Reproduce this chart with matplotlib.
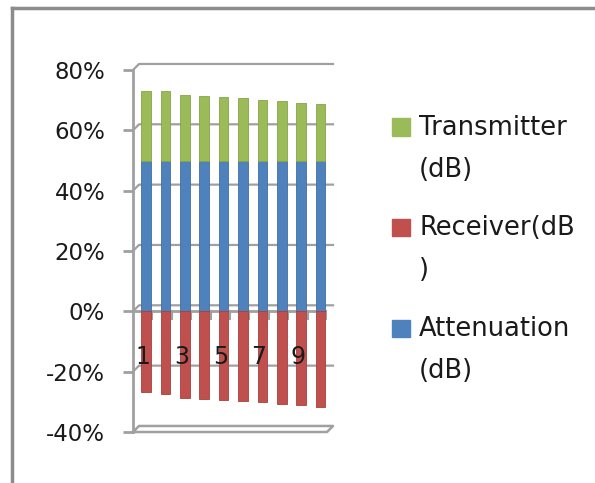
import matplotlib.pyplot as plt
import matplotlib.transforms as mtransforms
from matplotlib.patches import Rectangle
import numpy as np

# datos de las barras (en %)
categorias = [1, 2, 3, 4, 5, 6, 7, 8, 9, 10]
atenuacion = [50, 50, 50, 50, 50, 50, 50, 50, 50, 50]
transmisor = [23.2, 23.0, 21.8, 21.5, 21.1, 20.7, 20.1, 19.6, 19.2, 18.8]
receptor = [-26.8, -27.4, -28.6, -29.0, -29.3, -29.7, -30.1, -30.7, -31.1, -31.7]
ticks_y = [-40, -20, 0, 20, 40, 60, 80]
etiquetas_x = ['1', '', '3', '', '5', '', '7', '', '9', '']
nombres = ['Transmitter\n(dB)', 'Receiver(dB\n)', 'Attenuation\n(dB)']

verde = '#9BBB59'
rojo = '#C0504D'
azul = '#4F81BD'
gris = '#A0A0A0'
texto = '#1A1A1A'

fig = plt.figure(figsize=(5.95, 4.83), dpi=100)
ax = fig.add_axes([133 / 595, 51 / 483, 194 / 595, 362 / 483])
ax.set_xlim(-0.5, len(categorias) - 0.5)
ax.set_ylim(-40, 80)

# las columnas quedan a media profundidad (desplazadas un poco a la derecha)
prof = ax.transData + mtransforms.ScaledTranslation(3.3 / 100, 0, fig.dpi_scale_trans)
x = np.arange(len(categorias))
ancho = 0.5
estilo = dict(width=ancho, zorder=3, transform=prof, linewidth=0.6)
ax.bar(x, atenuacion, color=azul, edgecolor='#3F6EA6', **estilo)
ax.bar(x, transmisor, bottom=atenuacion, color=verde, edgecolor='#86A548', **estilo)
ax.bar(x, receptor, color=rojo, edgecolor='#A8403D', **estilo)

# lineas de la pared del fondo (efecto 3D)
dx, dy = 0.031, 2.0
mixto = ax.get_yaxis_transform()
for t in ticks_y[1:]:
    ax.plot([0, dx, 1 + dx], [t, t + dy, t + dy], color=gris, lw=1.6,
            transform=mixto, clip_on=False, zorder=1)

# eje de categorias en el cero con sus marcas
ax.axhline(0, color=gris, lw=2, zorder=2)
for b in x + 0.5:
    ax.plot([b, b], [0, -2.6], color=gris, lw=1.5, zorder=2)

# suelo
ax.plot([0, 1, 1 + dx, dx, 0], [-40, -40, -40 + dy, -40 + dy, -40], color=gris,
        lw=1.8, transform=mixto, clip_on=False, zorder=2)

for s in ['top', 'right', 'bottom']:
    ax.spines[s].set_visible(False)
ax.spines['left'].set_color(gris)
ax.spines['left'].set_linewidth(2)

ax.set_yticks(ticks_y)
ax.set_yticklabels([f'{t}%' for t in ticks_y], fontsize=16.5, color=texto)
ax.tick_params(axis='y', length=7, width=2, color=gris, pad=13)
ax.set_xticks([])

for xi, et in zip(x, etiquetas_x):
    ax.text(xi, -15, et, ha='center', va='center', fontsize=17, color=texto,
            zorder=4)

# leyenda
for i, (nom, col) in enumerate(zip(nombres, [verde, rojo, azul])):
    yc = 1 - (127 + 100.5 * i) / 483
    fig.add_artist(Rectangle((392 / 595, yc - 8.5 / 483), 18 / 595, 17 / 483,
                             color=col, transform=fig.transFigure))
    fig.text(419 / 595, yc + 12 / 483, nom, ha='left', va='top', fontsize=18.5,
             color=texto, linespacing=1.78)

# marco de la figura
fig.add_artist(plt.Line2D([0.021, 1], [0.983, 0.983], color='#8C8C8C', lw=2.5))
fig.add_artist(plt.Line2D([0.021, 0.021], [0.983, 0], color='#8C8C8C', lw=2.5))

fig.savefig('out.png', dpi=100)
